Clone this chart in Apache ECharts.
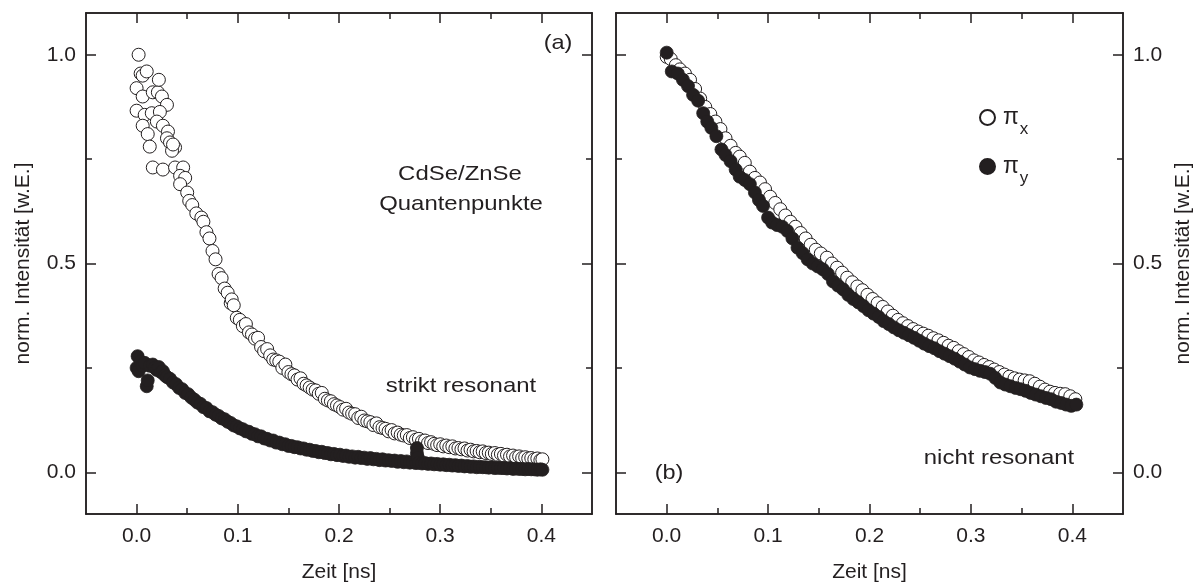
<!DOCTYPE html>
<html>
<head>
<meta charset="utf-8">
<script src="https://cdn.jsdelivr.net/npm/echarts@6/dist/echarts.min.js"></script>
<style>html,body{margin:0;padding:0;background:#fff;}#c{width:1198px;height:588px;}</style>
</head>
<body>
<div id="c"></div>
<script>
// ---- data (t in ns, normalized intensity) ----
const xMajorTicks = [0, 0.1, 0.2, 0.3, 0.4];
const xMinorTicks = [0.05, 0.15, 0.25, 0.35];
const yMajorTicks = [0, 0.5, 1.0];
const yMinorTicks = [0.25, 0.75];

// (a) strikt resonant, pi_x (open)
const resonantPiX = [
[0.002,1.0],[0.004,0.955],[0.006,0.95],[0.010,0.96],[0.000,0.92],[0.006,0.90],[0.016,0.91],[0.021,0.91],
[0.022,0.94],[0.025,0.90],[0.030,0.88],[0.000,0.866],[0.008,0.856],[0.015,0.86],[0.023,0.863],[0.006,0.83],
[0.011,0.81],[0.013,0.78],[0.020,0.84],[0.026,0.83],[0.031,0.816],[0.030,0.80],[0.033,0.79],[0.038,0.778],
[0.035,0.77],[0.036,0.785],[0.016,0.73],[0.026,0.725],[0.038,0.73],[0.046,0.73],[0.043,0.71],[0.048,0.705],
[0.043,0.69],[0.050,0.67],[0.052,0.65],[0.055,0.64],[0.059,0.62],[0.064,0.61],
[0.066,0.60],[0.069,0.575],[0.072,0.56],[0.075,0.53],[0.078,0.51],[0.081,0.475],[0.084,0.465],[0.087,0.44],
[0.090,0.43],[0.093,0.405],[0.094,0.414],[0.096,0.40],[0.099,0.37],[0.102,0.365],[0.105,0.35],[0.108,0.355],
[0.111,0.335],[0.114,0.33],[0.117,0.32],[0.120,0.322],[0.123,0.30],[0.126,0.29],[0.129,0.295],[0.132,0.28],
[0.135,0.27],[0.138,0.268],[0.141,0.265],[0.144,0.25],[0.147,0.258],[0.150,0.24],[0.153,0.235],[0.156,0.232],
[0.159,0.222],[0.162,0.225],[0.165,0.212],[0.168,0.208],[0.171,0.203],[0.174,0.198],[0.177,0.196],[0.180,0.188],
[0.183,0.19],[0.186,0.176],[0.189,0.172],[0.192,0.17],[0.195,0.163],[0.198,0.16],[0.201,0.156],[0.204,0.15],
[0.207,0.152],[0.210,0.143],[0.213,0.14],[0.216,0.139],[0.219,0.13],[0.222,0.133],[0.225,0.124],[0.228,0.122],
[0.231,0.12],[0.234,0.113],[0.237,0.117],[0.240,0.108],[0.243,0.106],[0.246,0.104],[0.249,0.098],[0.252,0.101],
[0.255,0.093],[0.258,0.095],[0.261,0.09],[0.264,0.088],[0.267,0.089],[0.270,0.082],[0.273,0.084],[0.276,0.078],
[0.279,0.08],[0.282,0.074],[0.285,0.076],[0.288,0.07],[0.291,0.072],[0.294,0.068],[0.297,0.065],[0.300,0.067],
[0.303,0.062],[0.306,0.064],[0.309,0.06],[0.312,0.062],[0.315,0.057],[0.318,0.058],[0.321,0.055],[0.324,0.057],
[0.327,0.052],[0.330,0.054],[0.333,0.05],[0.336,0.051],[0.339,0.048],[0.342,0.05],[0.345,0.046],[0.348,0.047],
[0.351,0.044],[0.354,0.046],[0.357,0.042],[0.360,0.044],[0.363,0.04],[0.366,0.042],[0.369,0.038],[0.372,0.04],
[0.375,0.036],[0.378,0.038],[0.381,0.034],[0.384,0.036],[0.387,0.033],[0.390,0.034],[0.393,0.031],[0.396,0.033],
[0.399,0.029],[0.401,0.031]
];

// (a) strikt resonant, pi_y (filled)
const resonantPiY = [
[0.000,0.25],[0.001,0.278],[0.002,0.242],[0.004,0.265],[0.006,0.255],[0.008,0.262],[0.010,0.206],[0.011,0.22],
[0.013,0.255],[0.016,0.258],[0.018,0.25],[0.020,0.245],[0.022,0.252],[0.024,0.24],[0.026,0.242],[0.028,0.232],
[0.030,0.228],[0.033,0.224],[0.036,0.215],[0.039,0.211],[0.042,0.202],[0.045,0.199],[0.048,0.19],[0.051,0.187],
[0.054,0.179],[0.057,0.174],[0.060,0.167],[0.063,0.164],[0.066,0.156],[0.069,0.154],[0.072,0.146],[0.075,0.144],
[0.078,0.138],[0.081,0.135],[0.084,0.129],[0.087,0.127],[0.090,0.121],[0.093,0.118],[0.096,0.112],[0.099,0.11],
[0.102,0.105],[0.105,0.103],[0.108,0.098],[0.111,0.097],[0.114,0.092],[0.117,0.091],[0.120,0.086],[0.123,0.086],
[0.126,0.081],[0.129,0.08],[0.132,0.076],[0.135,0.076],[0.138,0.071],[0.141,0.071],[0.144,0.067],[0.147,0.067],
[0.150,0.063],[0.153,0.063],[0.156,0.06],[0.159,0.06],[0.162,0.057],[0.165,0.057],[0.168,0.054],[0.171,0.054],
[0.174,0.051],[0.177,0.051],[0.180,0.048],[0.183,0.049],[0.186,0.046],[0.189,0.046],[0.192,0.043],[0.195,0.044],
[0.198,0.041],[0.201,0.042],[0.204,0.039],[0.207,0.04],[0.210,0.037],[0.213,0.038],[0.216,0.035],[0.219,0.037],
[0.222,0.034],[0.225,0.035],[0.228,0.032],[0.231,0.034],[0.234,0.031],[0.237,0.032],[0.240,0.029],[0.243,0.031],
[0.246,0.028],[0.249,0.029],[0.252,0.027],[0.255,0.028],[0.258,0.025],[0.261,0.027],[0.264,0.024],[0.267,0.026],
[0.270,0.023],[0.273,0.024],[0.276,0.022],[0.277,0.045],[0.277,0.058],[0.278,0.035],[0.279,0.023],[0.282,0.021],
[0.285,0.022],[0.288,0.02],[0.291,0.021],[0.294,0.019],[0.297,0.02],[0.300,0.018],[0.303,0.019],[0.306,0.017],
[0.309,0.018],[0.312,0.016],[0.315,0.017],[0.318,0.015],[0.321,0.016],[0.324,0.014],[0.327,0.015],[0.330,0.013],
[0.333,0.014],[0.336,0.012],[0.339,0.013],[0.342,0.012],[0.345,0.012],[0.348,0.011],[0.351,0.012],[0.354,0.01],
[0.357,0.011],[0.360,0.01],[0.363,0.01],[0.366,0.009],[0.369,0.01],[0.372,0.008],[0.375,0.009],[0.378,0.008],
[0.381,0.008],[0.384,0.007],[0.387,0.008],[0.390,0.007],[0.393,0.007],[0.396,0.006],[0.399,0.007],[0.401,0.006]
];

// (b) nicht resonant, pi_x (open)
const nonresonantPiX = [
[0.000,0.995],[0.004,0.99],[0.009,0.975],[0.013,0.965],[0.018,0.955],[0.023,0.94],[0.028,0.918],[0.033,0.895],
[0.038,0.875],[0.043,0.858],[0.048,0.84],[0.053,0.822],[0.058,0.80],[0.063,0.782],[0.068,0.765],[0.072,0.756],
[0.077,0.741],[0.082,0.72],[0.087,0.705],[0.092,0.694],[0.097,0.678],[0.102,0.66],[0.107,0.645],[0.112,0.63],
[0.117,0.615],[0.122,0.60],[0.127,0.588],[0.132,0.573],[0.137,0.56],[0.142,0.545],[0.147,0.533],[0.152,0.524],
[0.158,0.514],[0.163,0.50],[0.168,0.49],[0.173,0.478],[0.178,0.466],[0.183,0.455],[0.188,0.445],[0.193,0.436],
[0.198,0.425],[0.203,0.415],[0.208,0.405],[0.213,0.396],[0.218,0.385],[0.223,0.375],[0.228,0.365],[0.233,0.357],
[0.238,0.35],[0.243,0.343],[0.248,0.337],[0.253,0.332],[0.258,0.327],[0.263,0.321],[0.268,0.316],[0.273,0.31],
[0.278,0.303],[0.283,0.298],[0.288,0.29],[0.293,0.283],[0.298,0.276],[0.303,0.268],[0.308,0.263],[0.313,0.257],
[0.318,0.252],[0.323,0.246],[0.328,0.24],[0.333,0.234],[0.338,0.229],[0.343,0.225],[0.348,0.222],[0.353,0.22],
[0.358,0.218],[0.363,0.212],[0.368,0.205],[0.373,0.198],[0.378,0.193],[0.383,0.19],[0.388,0.188],[0.393,0.187],
[0.398,0.182],[0.403,0.175]
];

// (b) nicht resonant, pi_y (filled)
const nonresonantPiY = [
[0.000,1.005],[0.005,0.96],[0.011,0.955],[0.016,0.94],[0.021,0.925],[0.026,0.904],[0.031,0.89],[0.036,0.86],
[0.040,0.84],[0.044,0.825],[0.049,0.805],[0.054,0.773],[0.058,0.76],[0.063,0.745],[0.068,0.725],[0.072,0.708],
[0.077,0.70],[0.082,0.69],[0.087,0.67],[0.091,0.652],[0.095,0.638],[0.100,0.61],[0.104,0.598],[0.109,0.592],
[0.114,0.588],[0.119,0.578],[0.124,0.56],[0.129,0.538],[0.134,0.525],[0.139,0.51],[0.144,0.50],[0.149,0.493],
[0.154,0.486],[0.159,0.475],[0.164,0.457],[0.169,0.447],[0.174,0.438],[0.179,0.425],[0.184,0.415],[0.189,0.407],
[0.194,0.398],[0.199,0.388],[0.204,0.38],[0.209,0.372],[0.214,0.362],[0.219,0.355],[0.224,0.347],[0.229,0.34],
[0.234,0.334],[0.239,0.328],[0.244,0.322],[0.249,0.315],[0.254,0.308],[0.259,0.302],[0.264,0.297],[0.269,0.29],
[0.274,0.284],[0.279,0.278],[0.284,0.272],[0.289,0.265],[0.294,0.258],[0.299,0.251],[0.304,0.247],[0.309,0.243],
[0.314,0.24],[0.319,0.236],[0.324,0.226],[0.329,0.215],[0.334,0.21],[0.339,0.206],[0.344,0.202],[0.349,0.199],
[0.354,0.195],[0.359,0.19],[0.364,0.186],[0.369,0.182],[0.374,0.178],[0.379,0.175],[0.384,0.169],[0.389,0.166],
[0.394,0.162],[0.399,0.159],[0.404,0.162]
];

// ---- chart ----
const INK = '#231f20';
const FONT = '"Liberation Sans", Arial, sans-serif';
const lineStyle = { color: INK, width: 1.5 };

function xAxisDef(grid, pos, ticks, len, withLabel) {
  return {
    type: 'value', gridIndex: grid, position: pos, min: -0.05, max: 0.45,
    axisLine: { show: true, onZero: false, lineStyle },
    axisTick: { show: true, inside: true, length: len, customValues: ticks, lineStyle },
    axisLabel: withLabel ? { show: true, customValues: ticks, formatter: v => v.toFixed(1), color: INK, fontSize: 21, fontFamily: FONT, margin: 12 } : { show: false },
    splitLine: { show: false },
    name: withLabel ? 'Zeit [ns]' : '', nameLocation: 'middle', nameGap: 48,
    nameTextStyle: { color: INK, fontSize: 21, fontFamily: FONT }
  };
}
function yAxisDef(grid, pos, ticks, len, withLabel) {
  return {
    type: 'value', gridIndex: grid, position: pos, min: -0.1, max: 1.1,
    axisLine: { show: true, onZero: false, lineStyle },
    axisTick: { show: true, inside: true, length: len, customValues: ticks, lineStyle },
    axisLabel: withLabel ? { show: true, customValues: ticks, formatter: v => v.toFixed(1), color: INK, fontSize: 21, fontFamily: FONT, margin: 10 } : { show: false },
    splitLine: { show: false },
    name: withLabel ? 'norm. Intensität [w.E.]' : '', nameLocation: 'middle', nameRotate: 90,
    nameGap: pos === 'left' ? 52 : 50,
    nameTextStyle: { color: INK, fontSize: 21, fontFamily: FONT }
  };
}

const openStyle = { color: '#ffffff', borderColor: INK, borderWidth: 1, opacity: 1 };
const fillStyle = { color: INK, borderColor: INK, borderWidth: 0.8, opacity: 1 };

function label(text, x, y, size, sx) {
  return { type: 'text', x: x, y: y, scaleX: sx, style: { text: text, font: size + 'px ' + FONT, fill: INK, align: 'center', verticalAlign: 'middle' } };
}

const option = {
  animation: false,
  backgroundColor: '#ffffff',
  grid: [
    { left: 86, top: 13, width: 506, height: 503 },
    { left: 616, top: 13, width: 507, height: 503 }
  ],
  xAxis: [
    xAxisDef(0, 'bottom', xMajorTicks, 10, true),
    xAxisDef(0, 'bottom', xMinorTicks, 6, false),
    xAxisDef(0, 'top', xMajorTicks, 10, false),
    xAxisDef(0, 'top', xMinorTicks, 6, false),
    xAxisDef(1, 'bottom', xMajorTicks, 10, true),
    xAxisDef(1, 'bottom', xMinorTicks, 6, false),
    xAxisDef(1, 'top', xMajorTicks, 10, false),
    xAxisDef(1, 'top', xMinorTicks, 6, false)
  ],
  yAxis: [
    yAxisDef(0, 'left', yMajorTicks, 10, true),
    yAxisDef(0, 'left', yMinorTicks, 6, false),
    yAxisDef(0, 'right', yMajorTicks, 10, false),
    yAxisDef(0, 'right', yMinorTicks, 6, false),
    yAxisDef(1, 'right', yMajorTicks, 10, true),
    yAxisDef(1, 'right', yMinorTicks, 6, false),
    yAxisDef(1, 'left', yMajorTicks, 10, false),
    yAxisDef(1, 'left', yMinorTicks, 6, false)
  ],
  legend: {
    orient: 'vertical', left: 974, top: 101, itemGap: 17, itemWidth: 15, itemHeight: 15,
    icon: 'circle', data: ['πx', 'πy'],
    formatter: n => n === 'πx' ? '{m|π}{s|x}' : '{m|π}{s|y}',
    textStyle: {
      color: INK, fontFamily: FONT,
      rich: {
        m: { fontSize: 23, fontFamily: FONT, color: INK, padding: [0, 0, 0, 3] },
        s: { fontSize: 17, fontFamily: FONT, color: INK, padding: [24, 0, 0, 1] }
      }
    }
  },
  series: [
    { name: 'πx', type: 'scatter', xAxisIndex: 0, yAxisIndex: 0, symbol: 'circle', symbolSize: 13, itemStyle: openStyle, data: resonantPiX },
    { name: 'πy', type: 'scatter', xAxisIndex: 0, yAxisIndex: 0, symbol: 'circle', symbolSize: 13, itemStyle: fillStyle, data: resonantPiY },
    { name: 'πx', type: 'scatter', xAxisIndex: 4, yAxisIndex: 4, symbol: 'circle', symbolSize: 13, itemStyle: openStyle, data: nonresonantPiX },
    { name: 'πy', type: 'scatter', xAxisIndex: 4, yAxisIndex: 4, symbol: 'circle', symbolSize: 13, itemStyle: fillStyle, data: nonresonantPiY }
  ],
  graphic: [
    label('(a)', 558, 43, 21, 1.12),
    label('CdSe/ZnSe', 460, 174, 21, 1.14),
    label('Quantenpunkte', 461, 204, 21, 1.14),
    label('strikt resonant', 461, 386, 21, 1.14),
    label('(b)', 669, 473, 21, 1.12),
    label('nicht resonant', 999, 458, 21, 1.14)
  ]
};

const chart = echarts.init(document.getElementById('c'), null, { renderer: 'canvas' });
chart.setOption(option);
</script>
</body>
</html>
